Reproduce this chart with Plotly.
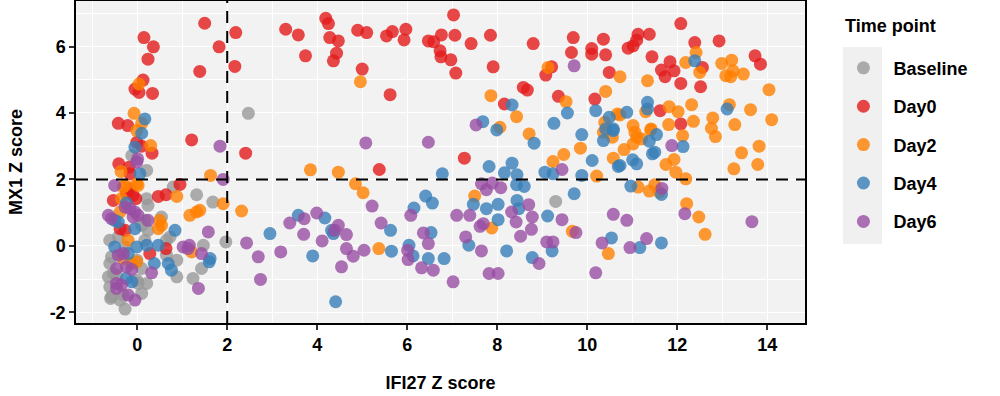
import plotly.graph_objects as go

# ---------------- data (IFI27 Z score, MX1 Z score) ----------------
baseline_x = [2.47, -0.12, 0.21, 0.21, 0.24, 0.80, 1.32, 1.68, 0.10, 0.17, -0.61, -0.42, -0.27, 0.17, 0.65,
              1.47, 1.97, 1.43, 1.24, 0.88, 0.88, -0.01, 0.10, -0.57, -0.61, -0.53, -0.64, 0.02, 0.21, -0.57,
              -0.31, 0.10, -0.27, -0.59, 9.30, 0.24, 0.54, 0.73, 0.65, -0.61, -0.01, -0.38, -0.46]
baseline_y = [3.99, 2.72, 2.27, 1.42, 1.22, 1.77, 1.54, 1.32, 0.62, 0.77, 0.17, 0.27, -0.03, 0.17, 0.17,
              0.02, 0.12, -0.68, -0.98, -0.43, -0.93, -0.43, -0.68, -0.33, -0.53, -0.83, -0.93, -1.13, -1.13, -1.53,
              -1.48, -1.43, -1.90, -1.58, 1.34, 0.47, 0.87, 0.27, -0.28, -1.23, -1.03, -1.63, -0.88]

day0_x = [0.15, 0.36, 0.24, 0.13, -0.05, 0.04, 0.34, 1.50, 2.19, 1.82, 1.39, 2.17, -0.42, -0.21, -0.01, 0.10,
          0.33, 1.21, 2.41, -0.41, -0.18, 0.95, -0.16, -0.16, -0.09, -0.24, -0.53, -0.03, 0.47, 0.64, -0.38,
          -0.27, 0.28, 0.64,
          3.30, 3.58, 3.74, 4.19, 4.25, 4.28, 4.47, 4.43, 4.36, 4.90, 5.10, 5.00, 5.54, 5.67, 5.97, 5.93, 5.62,
          5.38, 6.47, 6.59, 6.76, 6.73, 6.75, 6.97, 7.03, 7.06, 7.08, 7.27, 7.42, 7.85, 7.91, 9.08, 9.21, 8.58,
          8.67, 8.16, 9.36, 10.17, 10.49,
          8.80, 9.69, 9.65, 10.10, 10.10, 10.36, 10.41, 10.91, 11.02, 11.10, 11.13, 11.38, 11.44, 11.65, 11.73,
          11.84, 11.93, 12.08, 12.08, 12.39, 12.56, 12.52, 12.93, 13.73, 13.85, 11.62, 12.08]
day0_y = [6.27, 5.99, 5.62, 4.99, 4.72, 4.62, 4.59, 6.70, 6.42, 5.99, 5.25, 5.40, 3.69, 3.62, 3.12, 3.00,
          2.79, 3.19, 2.79, 2.47, 2.37, 1.85, 2.17, 1.72, 1.52, 1.59, 1.37, 1.42, 1.49, 1.54, 0.52,
          0.47, -0.23, -0.08,
          6.52, 6.35, 5.72, 6.85, 6.69, 6.27, 6.17, 5.80, 5.57, 6.49, 6.42, 5.32, 6.32, 6.45, 6.52, 6.20, 4.55,
          2.30, 6.17, 6.14, 6.35, 5.87, 5.69, 5.60, 6.95, 6.34, 5.20, 2.64, 6.09, 6.34, 5.39, 5.14, 5.39, 4.77,
          4.69, 4.27, 4.50, 4.42, 5.22,
          6.09, 6.27, 5.82, 5.94, 5.77, 6.22, 5.75, 5.95, 6.02, 6.19, 6.37, 6.37, 5.69, 5.29, 5.09,
          5.54, 5.27, 6.69, 4.89, 6.12, 5.37, 4.79, 6.17, 5.72, 5.47, 4.07, 3.67]

day2_x = [0.04, -0.07, 0.10, -0.01, 0.30, 1.63, -0.27, -0.36, -0.01, 0.02, -0.31, -0.35, -0.38, 0.88, 1.91,
          2.32, 1.17, 1.32, 1.39, 0.50, 0.54, 0.47, -0.20, 1.21, -0.31, -0.12, -0.01,
          4.96, 3.85, 4.47, 4.85, 5.02, 5.37,
          9.13, 7.86, 8.43, 8.06, 8.71, 9.53, 10.41, 10.39, 9.85, 9.48, 9.24, 10.58, 10.56, 10.21, 7.50, 7.88,
          9.67, 10.47,
          10.73, 11.34, 12.19, 12.42, 12.50, 12.99, 13.21, 13.08, 13.19, 13.24, 13.47, 14.04, 14.10, 13.63,
          13.16, 13.28, 12.79, 12.76, 12.85, 12.36, 12.32, 12.02, 11.82, 11.81, 12.12, 13.82, 13.43, 13.79,
          13.26, 11.75, 11.93, 11.97, 12.19, 10.67, 10.73, 10.36, 11.02, 11.06, 11.10, 11.02, 11.21, 11.42,
          11.30, 10.82, 11.41, 11.13, 11.38, 11.50, 11.60, 12.21, 12.48, 12.62]
day2_y = [4.87, 3.99, 3.69, 3.47, 3.02, 2.12, 1.82, 2.24, 1.87, 1.82, 1.77, 1.42, 1.02, 1.49, 1.27,
          1.05, 0.92, 1.02, 1.07, 0.77, 0.62, 0.52, 0.17, -0.18, -0.38, -0.53, -0.48,
          4.94, 2.29, 2.22, 1.87, 1.60, -0.08,
          5.37, 4.52, 3.89, 3.57, 3.37, 4.34, 4.65, 3.72, 2.94, 2.75, 2.54, 2.64, 3.27, 2.10, 1.50, 0.54,
          0.44, -0.23,
          5.09, 4.97, 5.52, 5.82, 5.22, 5.49, 5.59, 5.12, 5.09, 5.27, 5.17, 4.70, 3.80, 4.10,
          4.25, 3.65, 3.85, 3.54, 3.29, 3.75, 4.25, 4.04, 4.19, 3.65, 3.32, 3.00, 2.80, 2.45,
          2.32, 2.45, 2.60, 2.22, 2.02, 3.97, 3.94, 3.42, 3.62, 3.42, 3.27, 3.07, 3.22, 3.52,
          4.04, 2.90, 3.49, 1.77, 1.65, 1.84, 1.62, 1.27, 0.87, 0.35]

day4_x = [0.17, 0.10, -0.05, 0.06, -0.24, -0.50, -0.42, 0.84, -0.05, -0.50, -0.01, 0.21, 0.47, 1.62, 1.60,
          0.38, 0.69, 0.76, -0.20, -0.24, -0.12,
          2.95, 3.58, 4.17, 4.32, 4.36, 3.90, 4.41, 5.63, 5.65, 6.04, 6.13, 6.15, 6.41, 6.56, 6.53, 6.47, 6.82,
          6.78,
          8.33, 7.68, 7.99, 8.82, 9.26, 9.56, 9.88, 10.19, 10.49, 10.36, 10.58, 10.11, 10.69, 7.82, 8.16, 8.33,
          8.44, 9.06, 9.24, 9.88, 8.43, 8.60, 7.47, 7.76, 8.02, 8.44, 8.48, 9.71, 8.02, 9.12, 7.37, 8.21, 8.78,
          9.22, 10.54,
          12.39, 11.34, 11.34, 10.88, 10.41, 10.58, 11.54, 11.38, 11.50, 11.45, 11.01, 11.10, 10.73, 12.13,
          13.11, 10.97, 11.65, 11.17, 11.65]
day4_y = [3.82, 3.39, 2.97, 2.17, 1.29, 0.77, 0.72, 0.47, 0.52, -0.03, -0.03, 0.02, 0.02, -0.38, -0.48,
          -0.53, -0.53, -0.73, -0.23, -0.98, -1.08,
          0.37, 0.92, 0.84, 0.47, 0.37, -0.30, -1.68, 0.47, -0.16, 0.02, -0.30, 1.14, 1.50, 1.29, 0.40, -0.38, -0.38,
          2.17,
          4.24, 3.74, 3.49, 3.09, 3.69, 4.00, 3.35, 4.07, 3.87, 3.17, 3.47, 2.57, 2.39, 2.39, 2.20, 2.49,
          2.14, 2.22, 2.17, 2.12, 1.84, 1.79, 1.25, 1.12, 1.25, 1.37, 1.12, 1.57, 0.79, 0.90, 0.02, -0.15, -0.35,
          -0.15, 0.24,
          5.57, 4.32, 4.12, 4.02, 3.52, 3.52, 3.35, 3.15, 2.82, 2.77, 2.59, 2.47, 2.42, 2.99,
          4.12, 1.80, 1.55, -0.05, 0.09]

day6_x = [1.84, -0.01, 1.91, -0.50, 0.01, -0.27, -0.16, -0.05, -0.09, 0.02, -0.64, -0.57, 0.24, 1.02, 1.16,
          1.13, 1.58, 1.43, 2.43, 1.36, 0.32, -0.42, -0.31, -0.46, -0.24, -0.12, -0.46, -0.35, -0.46, -0.05,
          -0.20,
          5.08, 6.47, 5.22, 3.99, 3.39, 3.71, 3.70, 4.47, 4.39, 4.65, 4.11, 2.69, 3.19, 2.74, 4.65, 4.80, 4.54,
          5.04, 5.42, 6.08, 6.36, 6.47, 6.01, 6.02, 6.32, 6.58, 7.02, 7.10,
          9.71, 7.53, 9.44, 7.65, 7.76, 7.89, 8.08, 7.39, 7.62, 7.69, 8.32, 8.42, 8.70, 8.78, 8.76, 8.52, 9.44,
          9.75, 7.30, 7.65, 9.10, 9.24, 8.93, 7.82, 8.02, 10.19, 10.58, 10.33,
          11.88, 11.66, 10.88, 12.17, 13.66, 10.95, 11.32]
day6_y = [3.00, 2.52, 2.00, 1.82, 2.62, 1.17, 1.12, 1.02, 0.87, 0.92, 0.92, 0.82, 0.77, -0.03, 0.02,
          -0.08, 0.42, -0.23, 0.09, -1.28, -0.81, -0.28, -0.23, -0.68, -0.63, -0.71, -1.13, -1.18, -1.28, -1.63,
          -1.48,
          3.10, 3.12, 1.20, 0.99, 0.69, 0.82, 0.35, 0.62, 0.47, 0.34, 0.15, -0.33, -0.18, -1.01, -0.08, -0.31, -0.63,
          -0.13, 0.69, 0.92, 0.39, 0.07, -0.13, -0.41, -0.66, -0.73, -1.08, 0.92,
          5.42, 3.64, 2.30, 1.87, 1.69, 1.89, 1.75, 0.92, 0.59, 0.67, 1.02, 0.72, 1.24, 0.87, 0.50, 0.29, 0.79,
          0.40, 0.27, -0.15, 0.12, 0.12, -0.53, -0.83, -0.83, -0.81, 0.95, 0.09,
          3.02, 1.73, 0.77, 0.97, 0.73, -0.05, 0.22]

groups = ["Baseline", "Day0", "Day2", "Day4", "Day6"]
colors = ["#999999", "#E41A1C", "#FF7F00", "#377EB8", "#984EA3"]
xs = [baseline_x, day0_x, day2_x, day4_x, day6_x]
ys = [baseline_y, day0_y, day2_y, day4_y, day6_y]

x_ticks = [0, 2, 4, 6, 8, 10, 12, 14]
y_ticks = [-2, 0, 2, 4, 6]
y_tick_labels = ["-2", "0", "2", "4", "6"]
x_cut = 2
y_cut = 2

FONT = "Liberation Sans, Arial, Helvetica, sans-serif"
BOLD18 = dict(family=FONT, size=18, color="black", weight="bold")

fig = go.Figure()
for g, c, x, y in zip(groups, colors, xs, ys):
    fig.add_trace(go.Scatter(
        x=x, y=y, mode="markers", name=g, legendgroup=g,
        marker=dict(color=c, size=13, opacity=0.8, line=dict(width=0)),
    ))

fig.add_shape(type="line", xref="x", yref="paper", x0=x_cut, x1=x_cut, y0=0, y1=1,
              line=dict(color="black", width=2, dash="12px,8px"), layer="above")
fig.add_shape(type="line", xref="paper", yref="y", x0=0, x1=1, y0=y_cut, y1=y_cut,
              line=dict(color="black", width=2, dash="12px,8px"), layer="above")
# legend key background
fig.add_shape(type="rect", xref="paper", yref="paper", x0=1.0521, x1=1.1056, y0=0.245, y1=0.857,
              fillcolor="#F0F0F0", line=dict(width=0), layer="below")

axis_common = dict(
    showline=True, linecolor="black", linewidth=1.5, mirror=True,
    ticks="outside", ticklen=5, tickwidth=1.5, tickcolor="#333333",
    showgrid=True, gridcolor="white", gridwidth=1.4, zeroline=False,
    tickfont=BOLD18, automargin=False,
)

fig.update_xaxes(**axis_common, range=[-1.36, 14.84], tickvals=x_ticks,
                 minor=dict(dtick=1, tick0=1, showgrid=True, gridcolor="white", gridwidth=0.7, ticks=""),
                 title=dict(text="IFI27 Z score", standoff=22, font=BOLD18))
fig.update_yaxes(**axis_common, range=[-2.32, 7.37], tickvals=y_ticks, ticktext=y_tick_labels,
                 minor=dict(dtick=1, tick0=1, showgrid=True, gridcolor="white", gridwidth=0.7, ticks=""),
                 title=dict(text="MX1 Z score", standoff=22, font=BOLD18))

fig.add_annotation(text="Time point", xref="paper", yref="paper", x=1.0521, y=0.922,
                   xanchor="left", yanchor="middle", showarrow=False, font=BOLD18)

fig.update_layout(
    width=1000, height=396,
    margin=dict(l=76, r=195, t=1, b=73),
    plot_bgcolor="#F2F2F2", paper_bgcolor="white",
    font=dict(family=FONT, size=18, color="black"),
    legend=dict(
        font=BOLD18,
        x=1.039, y=0.849, xanchor="left", yanchor="top",
        bgcolor="rgba(0,0,0,0)", tracegroupgap=12, itemwidth=50,
    ),
)

fig.write_html("out.html", config={"displayModeBar": False},
               post_script="document.body.style.margin='0px';")
